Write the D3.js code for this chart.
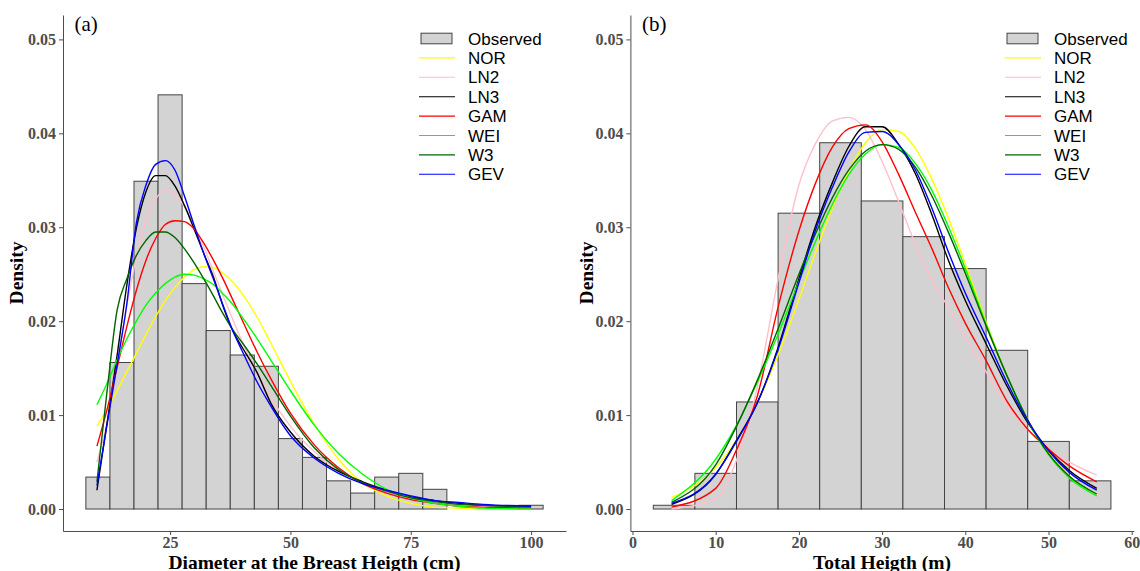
<!DOCTYPE html>
<html>
<head>
<meta charset="utf-8">
<script src="https://cdn.jsdelivr.net/npm/d3@7"></script>
<style>
  body { margin: 0; background: #fff; }
  svg { display: block; }
</style>
</head>
<body>
<svg id="chart" width="1140" height="571"></svg>
<script>
// ---- data ----
const seriesNames = ["NOR", "LN2", "LN3", "GAM", "WEI", "W3", "GEV"];
const seriesColors = ["#ffff00", "#ffc0cb", "#000000", "#ff0000", "#00ff00", "#006400", "#0000ff"];

// (a) diameter at breast height, 5 cm bins (bin centres)
const dbhBins = [10, 15, 20, 25, 30, 35, 40, 45, 50, 55, 60, 65, 70, 75, 80, 85, 90, 95, 100];
const dbhObserved = [0.0034, 0.0156, 0.0349, 0.0441, 0.0240, 0.0190, 0.0164, 0.0152, 0.0075, 0.0055,
  0.0030, 0.0017, 0.0034, 0.0038, 0.0021, 0, 0, 0, 0.0004];

const dbhX = [9.8, 12, 14, 16, 18, 20, 22, 24, 26, 28, 30, 32, 34, 36, 38, 40, 43, 46, 50, 55, 60, 65, 70, 75, 80, 85, 90, 100];
const dbhNOR = [0.0088, 0.0107, 0.0126, 0.0146, 0.0166, 0.0186, 0.0205, 0.0222, 0.0236, 0.0247, 0.0255, 0.0258, 0.0257, 0.0251,
  0.0242, 0.0229, 0.0205, 0.0176, 0.0136, 0.0090, 0.0053, 0.0028, 0.0014, 0.0006, 0.0002, 0.0001, 0.0000, 0.0000];
const dbhLN2 = [0.0050, 0.0094, 0.0155, 0.0216, 0.0268, 0.0307, 0.0330, 0.0339, 0.0335, 0.0322, 0.0302, 0.0279, 0.0253, 0.0227,
  0.0202, 0.0178, 0.0146, 0.0118, 0.0088, 0.0061, 0.0041, 0.0028, 0.0019, 0.0013, 0.0009, 0.0006, 0.0004, 0.0002];
const dbhLN3 = [0.0020, 0.0095, 0.0164, 0.0238, 0.0299, 0.0338, 0.0355, 0.0355, 0.0344, 0.0323, 0.0298, 0.0272, 0.0247, 0.0216,
  0.0190, 0.0172, 0.0146, 0.0112, 0.0082, 0.0056, 0.0040, 0.0029, 0.0020, 0.0013, 0.0009, 0.0006, 0.0004, 0.0003];
const dbhGAM = [0.0067, 0.0108, 0.0151, 0.0194, 0.0233, 0.0265, 0.0288, 0.0303, 0.0307, 0.0306, 0.0298, 0.0283, 0.0265, 0.0245,
  0.0223, 0.0201, 0.0168, 0.0138, 0.0102, 0.0068, 0.0044, 0.0027, 0.0017, 0.0010, 0.0006, 0.0003, 0.0002, 0.0001];
const dbhWEI = [0.0111, 0.0135, 0.0159, 0.0181, 0.0200, 0.0217, 0.0230, 0.0240, 0.0247, 0.0250, 0.0249, 0.0245, 0.0239, 0.0229,
  0.0218, 0.0204, 0.0182, 0.0158, 0.0126, 0.0089, 0.0059, 0.0037, 0.0021, 0.0012, 0.0006, 0.0003, 0.0001, 0.0000];
const dbhW3 = [0.0029, 0.0130, 0.0212, 0.0245, 0.0270, 0.0286, 0.0295, 0.0295, 0.0289, 0.0277, 0.0262, 0.0245, 0.0227, 0.0208,
  0.0191, 0.0177, 0.0155, 0.0131, 0.0099, 0.0065, 0.0042, 0.0028, 0.0019, 0.0012, 0.0008, 0.0005, 0.0004, 0.0002];
const dbhGEV = [0.0025, 0.0093, 0.0154, 0.0218, 0.0305, 0.0345, 0.0367, 0.0371, 0.0361, 0.0333, 0.0302, 0.0272, 0.0245, 0.0217,
  0.0190, 0.0168, 0.0136, 0.0109, 0.0078, 0.0054, 0.0038, 0.0027, 0.0020, 0.0014, 0.0009, 0.0007, 0.0005, 0.0003];

// (b) total height, 5 m bins (bin centres)
const htBins = [5, 10, 15, 20, 25, 30, 35, 40, 45, 50, 55];
const htObserved = [0.0004, 0.0038, 0.0114, 0.0315, 0.0390, 0.0328, 0.0290, 0.0256, 0.0169, 0.0072, 0.0030];

const htX = [4.7, 10, 12.5, 15, 17.5, 20, 22, 24, 26, 28, 30, 32, 34, 36, 38, 40, 42.5, 45, 47.5, 50, 52.5, 55.8];
const htNOR = [0.0012, 0.0044, 0.0073, 0.0113, 0.0164, 0.0223, 0.0273, 0.0320, 0.0360, 0.0390, 0.0404, 0.0402, 0.0384, 0.0351,
  0.0309, 0.0261, 0.0199, 0.0142, 0.0095, 0.0060, 0.0035, 0.0016];
const htLN2 = [0.0000, 0.0011, 0.0052, 0.0130, 0.0245, 0.0345, 0.0389, 0.0413, 0.0417, 0.0404, 0.0370, 0.0327, 0.0282, 0.0244,
  0.0214, 0.0183, 0.0146, 0.0110, 0.0085, 0.0064, 0.0050, 0.0036];
const htLN3 = [0.0005, 0.0037, 0.0073, 0.0113, 0.0172, 0.0245, 0.0301, 0.0347, 0.0386, 0.0407, 0.0407, 0.0388, 0.0357, 0.0313,
  0.0264, 0.0222, 0.0176, 0.0131, 0.0092, 0.0063, 0.0041, 0.0022];
const htGAM = [0.0002, 0.0022, 0.0063, 0.0120, 0.0215, 0.0296, 0.0347, 0.0385, 0.0405, 0.0409, 0.0391, 0.0356, 0.0316, 0.0277,
  0.0235, 0.0198, 0.0158, 0.0115, 0.0085, 0.0064, 0.0046, 0.0029];
const htWEI = [0.0009, 0.0053, 0.0089, 0.0135, 0.0186, 0.0242, 0.0285, 0.0324, 0.0356, 0.0378, 0.0388, 0.0385, 0.0368, 0.0339,
  0.0300, 0.0256, 0.0197, 0.0142, 0.0094, 0.0058, 0.0033, 0.0014];
const htW3 = [0.0007, 0.0047, 0.0088, 0.0137, 0.0192, 0.0250, 0.0293, 0.0331, 0.0361, 0.0381, 0.0388, 0.0383, 0.0364, 0.0333,
  0.0294, 0.0251, 0.0195, 0.0142, 0.0095, 0.0059, 0.0035, 0.0016];
const htGEV = [0.0006, 0.0037, 0.0072, 0.0113, 0.0170, 0.0241, 0.0297, 0.0342, 0.0380, 0.0401, 0.0402, 0.0388, 0.0361, 0.0320,
  0.0273, 0.0230, 0.0183, 0.0135, 0.0094, 0.0062, 0.0039, 0.0020];

const densityTicks = [0, 0.01, 0.02, 0.03, 0.04, 0.05];
const dbhTicks = [25, 50, 75, 100];
const htTicks = [0, 10, 20, 30, 40, 50, 60];

// ---- drawing ----
const svg = d3.select("#chart");
const serif = "'Liberation Serif', 'Times New Roman', serif";
const sans = "'Liberation Sans', Arial, sans-serif";
const binWidth = 5;

const panels = [
  {
    tag: "(a)", xTitle: "Diameter at the Breast Heigth (cm)",
    xDomain: [2.75, 107.25], xRange: [63, 566], xTicks: dbhTicks,
    bins: dbhBins, observed: dbhObserved,
    curveX: dbhX, curves: [dbhNOR, dbhLN2, dbhLN3, dbhGAM, dbhWEI, dbhW3, dbhGEV],
    legendX: 419, yTitleX: 23
  },
  {
    tag: "(b)", xTitle: "Total Heigth (m)",
    xDomain: [-0.25, 60.25], xRange: [630.4, 1133.8], xTicks: htTicks,
    bins: htBins, observed: htObserved,
    curveX: htX, curves: [htNOR, htLN2, htLN3, htGAM, htWEI, htW3, htGEV],
    legendX: 1005, yTitleX: 593
  }
];

const y = d3.scaleLinear().domain([-0.00234, 0.0526]).range([531, 15]);

panels.forEach(p => {
  const x = d3.scaleLinear().domain(p.xDomain).range(p.xRange);
  const g = svg.append("g");

  // histogram
  g.append("g")
    .selectAll("rect")
    .data(p.bins.map((b, i) => ({ mid: b, d: p.observed[i] })))
    .enter()
    .append("rect")
    .attr("x", d => x(d.mid - binWidth / 2))
    .attr("width", d => x(d.mid + binWidth / 2) - x(d.mid - binWidth / 2))
    .attr("y", d => y(d.d))
    .attr("height", d => y(0) - y(d.d))
    .attr("fill", "#d3d3d3")
    .attr("stroke", "#444")
    .attr("stroke-width", 1);

  // fitted densities
  const line = d3.line()
    .x(d => x(d[0]))
    .y(d => y(d[1]))
    .curve(d3.curveMonotoneX);

  p.curves.forEach((vals, k) => {
    g.append("path")
      .datum(p.curveX.map((v, i) => [v, vals[i]]))
      .attr("fill", "none")
      .attr("stroke", seriesColors[k])
      .attr("stroke-width", 1.4)
      .attr("d", line);
  });

  // axes
  const yAxis = g.append("g")
    .attr("transform", `translate(${p.xRange[0]},0)`)
    .call(d3.axisLeft(y).tickValues(densityTicks).tickFormat(d3.format(".2f"))
      .tickSize(4).tickSizeOuter(0).tickPadding(3));
  const xAxis = g.append("g")
    .attr("transform", `translate(0,531)`)
    .call(d3.axisBottom(x).tickValues(p.xTicks).tickFormat(d3.format("d"))
      .tickSize(4).tickSizeOuter(0).tickPadding(2));
  [yAxis, xAxis].forEach(a => {
    a.select(".domain").attr("stroke", "#4d4d4d");
    a.selectAll(".tick line").attr("stroke", "#4d4d4d");
    a.selectAll(".tick text")
      .attr("fill", "#4d4d4d")
      .attr("font-family", serif)
      .attr("font-weight", "bold")
      .attr("font-size", 16);
  });

  // titles
  g.append("text")
    .attr("x", (p.xRange[0] + p.xRange[1]) / 2)
    .attr("y", 568.5)
    .attr("text-anchor", "middle")
    .attr("font-family", serif)
    .attr("font-weight", "bold")
    .attr("font-size", 19.5)
    .text(p.xTitle);

  g.append("text")
    .attr("transform", `translate(${p.yTitleX},273) rotate(-90)`)
    .attr("text-anchor", "middle")
    .attr("font-family", serif)
    .attr("font-weight", "bold")
    .attr("font-size", 19.5)
    .text("Density");

  g.append("text")
    .attr("x", p.xRange[0] + 11.5)
    .attr("y", 31)
    .attr("font-family", serif)
    .attr("font-size", 21)
    .text(p.tag);

  // legend
  const leg = g.append("g").attr("transform", `translate(${p.legendX},0)`);
  const rowY = i => 38.5 + i * 19.4;
  leg.append("rect")
    .attr("x", 2).attr("y", rowY(0) - 5.3)
    .attr("width", 31).attr("height", 10.6)
    .attr("fill", "#d3d3d3")
    .attr("stroke", "#444")
    .attr("stroke-width", 1);
  leg.append("text")
    .attr("x", 49).attr("y", rowY(0) + 6)
    .attr("font-family", sans).attr("font-size", 17)
    .text("Observed");
  seriesNames.forEach((name, k) => {
    leg.append("line")
      .attr("x1", 0).attr("x2", 36)
      .attr("y1", rowY(k + 1)).attr("y2", rowY(k + 1))
      .attr("stroke", seriesColors[k])
      .attr("stroke-width", 1.1);
    leg.append("text")
      .attr("x", 49).attr("y", rowY(k + 1) + 6)
      .attr("font-family", sans).attr("font-size", 17)
      .text(name);
  });
});
</script>
</body>
</html>
